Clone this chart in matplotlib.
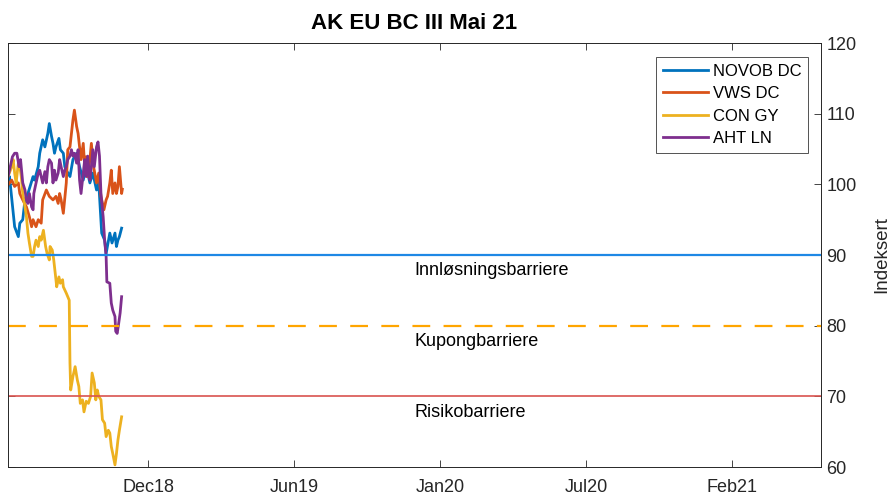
import datetime as dt

import numpy as np
import matplotlib

matplotlib.use("Agg")
import matplotlib.pyplot as plt

plt.rcParams["font.family"] = ["Liberation Sans", "DejaVu Sans"]

start_date = dt.date(2018, 5, 25)
end_date = dt.date(2021, 5, 31)

# days after start_date, index level
novo_days = [0, 2, 9, 14, 16, 20, 23, 27, 34, 36, 41, 43, 47, 50, 54, 56, 59, 61, 63, 65,
             69, 71, 75, 77, 79, 84, 88, 93, 97, 102, 106, 111, 115, 120, 123, 127, 131,
             133, 138, 141, 145, 147, 149, 151, 154]
novo_vals = [100.0, 101.1, 94.0, 92.6, 94.5, 95.0, 97.8, 98.7, 101.1, 100.6, 102.5, 104.4,
             106.3, 105.3, 107.2, 108.6, 106.8, 105.8, 104.4, 105.3, 106.5, 104.9, 104.4,
             102.5, 102.0, 101.1, 103.5, 104.4, 102.5, 100.6, 102.5, 100.2, 101.6, 99.2,
             100.2, 93.1, 92.1, 90.2, 93.1, 91.7, 93.1, 91.2, 92.1, 92.6, 93.8]

vws_days = [0, 5, 9, 14, 16, 20, 25, 29, 32, 34, 38, 41, 45, 47, 52, 56, 61, 65, 68, 70,
            72, 75, 79, 81, 84, 86, 88, 90, 93, 95, 97, 99, 102, 104, 106, 108, 111, 113,
            116, 120, 123, 126, 130, 133, 135, 138, 140, 142, 145, 147, 149, 151, 154, 155]
vws_vals = [99.9, 100.6, 99.7, 100.2, 98.7, 97.8, 96.8, 95.4, 94.0, 95.0, 94.0, 95.0, 94.5,
            97.8, 99.2, 98.3, 97.8, 98.3, 97.3, 98.7, 97.8, 95.9, 100.2, 104.9, 105.3,
            107.2, 109.1, 110.5, 108.2, 107.2, 105.3, 103.5, 105.8, 102.5, 103.9, 101.1,
            103.5, 105.8, 102.5, 100.2, 101.6, 98.3, 96.4, 97.8, 98.3, 100.2, 102.0, 98.7,
            100.2, 98.7, 99.7, 102.5, 98.7, 99.3]

con_days = [0, 5, 7, 9, 11, 14, 16, 18, 20, 23, 25, 27, 29, 32, 34, 36, 38, 41, 43, 45,
            48, 51, 53, 56, 57, 60, 62, 65, 66, 69, 71, 74, 75, 79, 81, 83, 84, 85, 88,
            91, 94, 96, 98, 101, 103, 106, 109, 112, 114, 117, 119, 121, 123, 126, 128,
            131, 133, 136, 138, 140, 142, 145, 147, 149, 151, 154]
con_vals = [101.1, 102.5, 103.5, 101.6, 100.2, 103.0, 102.5, 101.1, 98.7, 96.8, 95.4, 93.1,
            91.7, 89.8, 89.8, 91.2, 92.1, 91.2, 92.6, 92.1, 93.5, 91.2, 90.2, 89.3, 91.2,
            90.7, 89.3, 86.5, 85.5, 86.9, 86.0, 86.5, 85.5, 84.6, 84.1, 83.6, 74.7, 70.9,
            72.8, 74.2, 72.3, 71.4, 69.0, 69.5, 67.8, 69.3, 69.0, 70.0, 73.3, 71.9, 69.5,
            70.9, 70.0, 69.5, 66.7, 66.2, 64.3, 65.2, 64.8, 62.9, 61.9, 60.3, 61.9, 63.8,
            65.2, 67.1]

aht_days = [0, 2, 6, 9, 12, 15, 17, 20, 23, 25, 27, 29, 32, 34, 35, 37, 41, 43, 47, 50,
            52, 54, 56, 59, 61, 63, 65, 68, 70, 72, 75, 77, 79, 81, 84, 86, 88, 90, 93,
            95, 97, 99, 102, 104, 106, 108, 111, 113, 115, 117, 120, 122, 124, 126, 129,
            131, 133, 134, 138, 140, 142, 145, 146, 148, 150, 152, 154]
aht_vals = [101.1, 102.0, 103.9, 104.4, 104.4, 102.5, 103.5, 100.2, 99.2, 97.8, 97.3, 98.7,
            96.8, 96.4, 98.7, 99.7, 101.6, 102.0, 100.2, 101.8, 100.2, 102.5, 103.5, 103.0,
            100.2, 102.0, 100.6, 101.6, 103.5, 102.5, 101.1, 102.0, 102.5, 103.5, 104.0,
            104.9, 104.0, 104.4, 103.0, 104.9, 100.6, 98.7, 101.6, 103.5, 101.1, 104.0,
            100.6, 102.5, 104.9, 102.5, 105.3, 106.0, 104.0, 98.7, 95.4, 92.1, 89.8, 86.2,
            86.0, 83.2, 82.2, 81.3, 79.2, 78.9, 80.3, 81.8, 84.1]

series_names = ["NOVOB DC", "VWS DC", "CON GY", "AHT LN"]
series_colors = ["#0072BD", "#D95319", "#EDB120", "#7E2F8E"]

barrier_levels = [90, 80, 70]
barrier_names = ["Innløsningsbarriere", "Kupongbarriere", "Risikobarriere"]
barrier_colors = ["#1E88E5", "#FFA500", "#D9534F"]
barrier_styles = ["-", "--", "-"]
barrier_widths = [1.6, 1.6, 1.2]
label_date = dt.date(2019, 11, 27)

tick_dates = [dt.date(2018, 12, 1), dt.date(2019, 6, 17), dt.date(2020, 1, 1),
              dt.date(2020, 7, 17), dt.date(2021, 1, 31)]
tick_labels = ["Dec18", "Jun19", "Jan20", "Jul20", "Feb21"]


def to_dates(days):
    return [start_date + dt.timedelta(days=int(d)) for d in days]


fig = plt.figure(figsize=(8.91, 4.96), dpi=100)
ax = fig.add_axes([8 / 891, 29 / 496, 813 / 891, 424 / 496])

series = [(novo_days, novo_vals), (vws_days, vws_vals),
          (con_days, con_vals), (aht_days, aht_vals)]
for (days, vals), name, color in zip(series, series_names, series_colors):
    ax.plot(to_dates(days), vals, color=color, lw=2.0, label=name)

for lvl, name, color, ls, lw in zip(barrier_levels, barrier_names, barrier_colors,
                                     barrier_styles, barrier_widths):
    if ls == "--":
        ax.axhline(lvl, color=color, ls=ls, lw=lw, dashes=(8, 6))
    else:
        ax.axhline(lvl, color=color, ls=ls, lw=lw)
    ax.text(label_date, lvl - 2.25, name, fontsize=13, va="center", ha="left")

ax.set_xlim(start_date, end_date)
ax.set_ylim(60, 120)
ax.set_xticks(tick_dates)
ax.set_xticklabels(tick_labels)
ax.set_yticks(np.arange(60, 121, 10))

ax.yaxis.tick_right()
ax.yaxis.set_label_position("right")
ax.tick_params(axis="both", direction="in", length=5, width=0.6, labelsize=13,
               top=True, bottom=True, left=True, right=True,
               labelleft=False, labelright=True, colors="#262626")
ax.tick_params(axis="x", pad=9)
ax.tick_params(axis="y", pad=4)
for s in ax.spines.values():
    s.set_linewidth(0.7)
    s.set_color("#262626")

ax.set_ylabel("Indeksert", fontsize=13.5, labelpad=12, color="#262626")
ax.set_title("AK EU BC III Mai 21", fontsize=16, fontweight="bold", pad=10)

leg = ax.legend(loc="upper right", bbox_to_anchor=(0.984, 0.967), borderaxespad=0,
                fontsize=12, frameon=True, fancybox=False, edgecolor="#262626",
                handlelength=2.7, handletextpad=0.3, labelspacing=0.45, borderpad=0.4)
leg.get_frame().set_linewidth(0.7)
for line in leg.get_lines():
    line.set_linewidth(2.0)

fig.savefig("out.png", dpi=100)
